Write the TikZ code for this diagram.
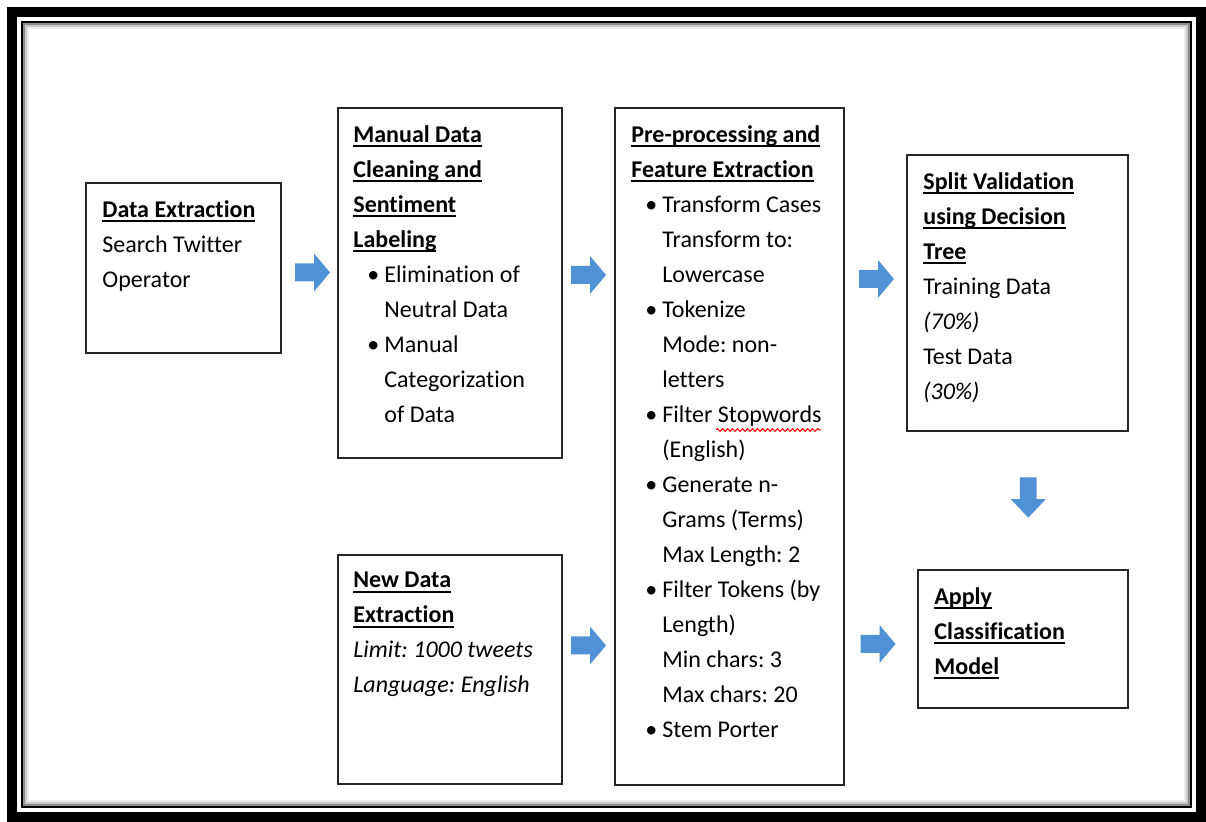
\documentclass[tikz,border=0pt]{standalone}
\usepackage{fontspec}
\setmainfont{Carlito}[Ligatures={TeX,NoCommon,NoRare,NoContextual}]
\usetikzlibrary{calc,decorations.pathmorphing}
\definecolor{arrowblue}{RGB}{80,146,213}
\frenchspacing
\newcommand\hd[1]{\setbox0\hbox{\textbf{#1}}\rlap{\rule[-2.5pt]{\wd0}{0.9pt}}\box0}
\newcommand\bul[1]{\hspace*{7pt}\makebox[8.5pt][l]{\textbullet}#1}
\newcommand\ind[1]{\hspace*{15.5pt}#1}
\begin{document}
\begin{tikzpicture}[x=.5pt, y=-.5pt,
    box/.style={draw=black!85, line width=1pt, anchor=north west, inner sep=0pt},
    txt/.style={anchor=north west, align=left, inner sep=0pt, font=\fontsize{12}{17.5}\selectfont},
    wave/.style={red, line width=.5pt, decorate, decoration={snake, amplitude=.7pt, segment length=2.5pt}},
    blk/.pic={\fill[arrowblue] (-17.5,-9)--(1.5,-9)--(1.5,-19)--(17.5,0)--(1.5,19)--(1.5,9)--(-17.5,9)--cycle;}]
\useasboundingbox (0,0) rectangle (1206,822);
\draw[line width=5pt] (12,12) rectangle (1201,817);
\draw[line width=1pt] (22,22) rectangle (1191,807);
\draw[black!45, line width=1pt] (24,24) rectangle (1189,805);
\draw[black!22, line width=1pt] (26,26) rectangle (1187,803);
\draw[black!8, line width=1pt] (28,28) rectangle (1185,801);

\node[box, minimum width=97.5pt, minimum height=85pt] (ext) at (85,182) {};
\node[box, minimum width=112pt, minimum height=175pt] (clean) at (337,107) {};
\node[box, minimum width=112pt, minimum height=114.5pt] (news) at (337,554) {};
\node[box, minimum width=114.5pt, minimum height=338.5pt] (prep) at (614,107) {};
\node[box, minimum width=110.5pt, minimum height=138pt] (split) at (906,154) {};
\node[box, minimum width=105pt, minimum height=69pt] (apply) at (917,569) {};

\node[txt] (extT) at ($(ext.north west)+(17,18)$) {\hd{Data Extraction}\\ Search Twitter\\ Operator};
\node[txt] (cleanT) at ($(clean.north west)+(16,18)$) {\hd{Manual Data}\\ \hd{Cleaning and}\\ \hd{Sentiment}\\ \hd{Labeling}\\
    \bul{Elimination of}\\ \ind{Neutral Data}\\ \bul{Manual}\\ \ind{Categorization}\\ \ind{of Data}};
\node[txt] (newsT) at ($(news.north west)+(16,18)$) {\hd{New Data}\\ \hd{Extraction}\\
    \textit{Limit: 1000 tweets}\\ \textit{Language: English}};
\node[txt] (prepT) at ($(prep.north west)+(17,18)$) {\hd{Pre-processing and}\\ \hd{Feature Extraction}\\
    \bul{Transform Cases}\\ \ind{Transform to:}\\ \ind{Lowercase}\\
    \bul{Tokenize}\\ \ind{Mode: non-}\\ \ind{letters}\\
    \bul{Filter Stopwords}\\ \ind{(English)}\\
    \bul{Generate n-}\\ \ind{Grams (Terms)}\\ \ind{Max Length: 2}\\
    \bul{Filter Tokens (by}\\ \ind{Length)}\\ \ind{Min chars: 3}\\ \ind{Max chars: 20}\\
    \bul{Stem Porter}};
\node[txt] (splitT) at ($(split.north west)+(17,18)$) {\hd{Split Validation}\\ \hd{using Decision}\\ \hd{Tree}\\
    Training Data\\ \textit{(70\%)}\\ Test Data\\ \textit{(30\%)}};
\node[txt] (applyT) at ($(apply.north west)+(17,18)$) {\hd{Apply}\\ \hd{Classification}\\ \hd{Model}};

\draw[wave] ($(prepT.north west)+(85,305)$) -- ($(prepT.north west)+(190,305)$);

\pic at ($(ext.east)!.5!(clean.west)+(3,-3)$) {blk};
\pic at ($(clean.east)!.5!(clean.east -| prep.west)+(0,-8)$) {blk};
\pic at ($(news.east)!.5!(news.east -| prep.west)+(0,-24)$) {blk};
\pic at ($(prep.east |- split.west)!.5!(split.west)+(1,-14)$) {blk};
\pic at ($(prep.east |- apply.west)!.5!(apply.west)+(-3,5)$) {blk};
\pic[rotate=-90, xscale=1.15, yscale=.92] at ($(split.south)!.5!(apply.north)+(8,-3)$) {blk};
\end{tikzpicture}
\end{document}
